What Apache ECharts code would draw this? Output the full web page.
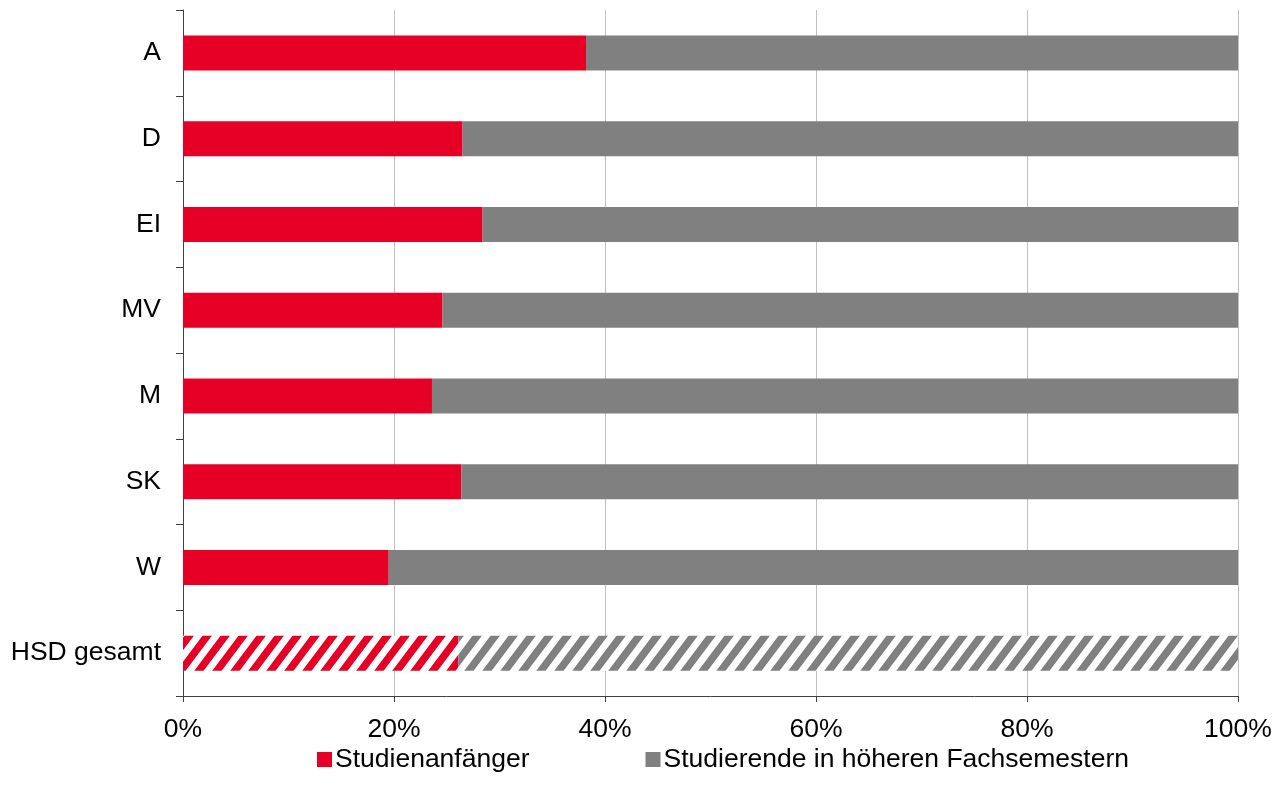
<!DOCTYPE html>
<html>
<head>
<meta charset="utf-8">
<script src="https://cdn.jsdelivr.net/npm/echarts@6/dist/echarts.min.js"></script>
<style>
  html, body { margin: 0; padding: 0; background: #fff; }
  #chart { width: 1285px; height: 802px; }
</style>
</head>
<body>
<div id="chart"></div>
<script>
const categories = ['A', 'D', 'EI', 'MV', 'M', 'SK', 'W', 'HSD gesamt'];
const anfaenger = [38.2, 26.5, 28.4, 24.6, 23.6, 26.4, 19.5, 26.1];
const hoehere = anfaenger.map(v => +(100 - v).toFixed(1));
const seriesNames = ['Studienanfänger', 'Studierende in höheren Fachsemestern'];

const RED = '#e60026';
const GRAY = '#808080';

// diagonal hatch for the total row (slightly steeper than 45deg)
function hatch(color) {
  const w = 18, h = 24;
  const c = document.createElement('canvas');
  c.width = w; c.height = h;
  const ctx = c.getContext('2d');
  ctx.fillStyle = '#fff';
  ctx.fillRect(0, 0, w, h);
  ctx.strokeStyle = color;
  ctx.lineWidth = 7.5;
  ctx.beginPath();
  for (let k = 0; k <= 2; k++) {
    ctx.moveTo(k * w - 2 * w, 2 * h);
    ctx.lineTo(k * w + 2 * w, -2 * h);
  }
  ctx.stroke();
  return { image: c, repeat: 'repeat' };
}

function withHatch(values, color) {
  return values.map((v, i) => i === values.length - 1
    ? { value: v, itemStyle: { color: hatch(color) } }
    : v);
}

const chart = echarts.init(document.getElementById('chart'));
chart.setOption({
  animation: false,
  textStyle: { fontFamily: 'Liberation Sans, Arial, sans-serif' },
  grid: { left: 183, right: 47, top: 10, bottom: 106 },
  legend: {
    top: 741,
    left: 312,
    itemGap: 116,
    itemWidth: 15,
    itemHeight: 15,
    icon: 'rect',
    textStyle: { fontSize: 26.5, color: '#000', padding: [0, 0, 0, -2] },
    data: seriesNames
  },
  xAxis: {
    type: 'value',
    min: 0,
    max: 100,
    interval: 20,
    axisLabel: { formatter: '{value}%', fontSize: 26.5, color: '#000', margin: 20 },
    axisLine: { show: true, lineStyle: { color: '#404040', width: 1 } },
    axisTick: { show: true, length: 6, lineStyle: { color: '#404040' } },
    splitLine: { lineStyle: { color: '#c0c0c0', width: 1 } }
  },
  yAxis: {
    type: 'category',
    inverse: true,
    data: categories,
    axisLabel: { fontSize: 26.5, color: '#000', margin: 22 },
    axisLine: { show: true, lineStyle: { color: '#404040', width: 1 } },
    axisTick: { show: true, length: 7, lineStyle: { color: '#404040' } }
  },
  series: [
    {
      name: seriesNames[0],
      type: 'bar',
      stack: 'total',
      barWidth: 35,
      itemStyle: { color: RED },
      data: withHatch(anfaenger, RED)
    },
    {
      name: seriesNames[1],
      type: 'bar',
      stack: 'total',
      barWidth: 35,
      itemStyle: { color: GRAY },
      data: withHatch(hoehere, GRAY)
    }
  ]
});
</script>
</body>
</html>
